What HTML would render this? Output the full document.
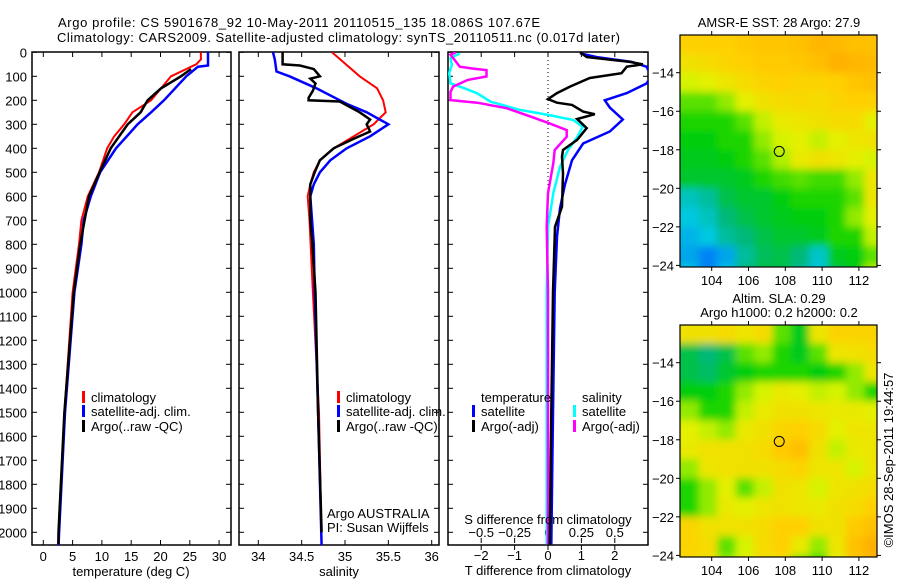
<!DOCTYPE html>
<html><head><meta charset="utf-8"><style>
html,body{margin:0;padding:0;background:#fff;}
svg{display:block;font-family:"Liberation Sans",sans-serif;}
text{font-size:13px;fill:#000;}
</style></head><body>
<svg id="chart" width="900" height="580" viewBox="0 0 900 580">
<defs>
<clipPath id="c1"><rect x="32" y="52" width="199" height="493"/></clipPath>
<clipPath id="c2"><rect x="239" y="52" width="200" height="493"/></clipPath>
<clipPath id="c3"><rect x="448" y="52" width="200" height="493"/></clipPath>
<clipPath id="cm1"><rect x="680" y="35" width="197" height="232"/></clipPath>
<clipPath id="cm2"><rect x="680" y="325" width="197" height="232"/></clipPath>
<filter id="blur" x="-5%" y="-5%" width="110%" height="110%"><feGaussianBlur stdDeviation="4"/></filter>
</defs>
<text x="58" y="27" textLength="482">Argo profile: CS 5901678_92 10-May-2011 20110515_135 18.086S 107.67E</text>
<text x="57" y="42" textLength="563">Climatology: CARS2009. Satellite-adjusted climatology: synTS_20110511.nc (0.017d later)</text>
<g id="root"></g>
</svg>
<script>
// ---------- Temperature panel data ----------
const tClimDepth = [0,30,50,100,150,200,250,300,350,400,500,600,700,800,1000,1500,2000,2055];
const tClimVal   = [26.9,26.9,26.1,21.8,20.1,18.4,15.2,13.8,12.1,10.9,9.5,7.6,6.5,6.1,5.0,3.6,2.6,2.5];
const tSatDepth  = [0,55,60,100,200,250,300,400,500,600,700,800,1000,1500,2000,2055];
const tSatVal    = [28.1,28.1,26.4,24.4,20.6,18.4,16.1,12.4,9.7,8.1,6.9,6.5,5.3,3.7,2.7,2.6];
const tArgoDepth = [70,100,150,200,250,300,400,500,600,800,1000,1500,2000,2050];
const tArgoVal   = [25.2,23.5,20.1,17.8,16.6,14.4,11.5,9.6,7.8,6.3,5.2,3.6,2.6,2.6];
const tTicks = [0,5,10,15,20,25,30];
// ---------- Salinity panel data ----------
const sClimDepth = [0,100,150,200,250,300,350,400,450,500,550,600,700,1000,1500,2055];
const sClimVal   = [34.85,35.17,35.37,35.44,35.47,35.33,35.10,34.87,34.71,34.64,34.60,34.57,34.59,34.63,34.70,34.73];
const sSatDepth  = [0,30,80,100,150,200,215,250,300,350,400,450,500,550,600,800,1000,1500,2055];
const sSatVal    = [34.17,34.19,34.21,34.36,34.67,34.94,35.02,35.25,35.50,35.29,35.02,34.83,34.71,34.64,34.60,34.64,34.65,34.69,34.73];
const sArgoDepth = [0,50,55,70,100,110,130,160,190,200,205,250,280,300,330,360,400,450,500,550,700,780,1000,1500,2000];
const sArgoVal   = [34.28,34.28,34.48,34.64,34.71,34.60,34.66,34.63,34.58,34.58,34.94,35.17,35.29,35.25,35.29,35.10,34.87,34.71,34.65,34.60,34.60,34.62,34.66,34.69,34.73];
const sTicks = [34,34.5,35,35.5,36];
// ---------- Difference panel data ----------
const dTSatDepth = [4,20,40,60,100,130,170,200,230,280,330,380,450,550,650,768,1000,1500,2050];
const dTSatVal   = [0.96,1.46,2.5,2.95,3.1,2.95,2.36,1.7,1.85,2.24,1.85,1.05,0.72,0.51,0.36,0.27,0.2,0.15,0.1];
const dTArgoDepth= [0,20,40,50,60,87,107,143,170,195,210,219,247,258,278,316,365,407,435,504,643,727,1000,1500,2050];
const dTArgoVal  = [0.96,1.16,2.45,2.84,2.36,2.2,1.25,0.66,0.27,0,0.27,0.72,1.05,1.4,0.87,1.16,0.87,0.45,0.42,0.45,0.42,0.21,0.15,0.1,0.05];
const dSSatDepth = [5,24,53,87,129,149,171,206,240,261,282,311,352,407,477,587,727,1000,1500,2050];
const dSSatVal   = [-0.66,-0.73,-0.72,-0.74,-0.73,-0.63,-0.53,-0.43,-0.21,0,0.19,0.26,0.22,0.15,0.09,0.04,0,-0.01,-0.01,-0.01];
const dSArgoDepth= [0,10,60,68,74,101,115,143,165,199,210,233,268,296,324,352,407,462,587,727,1000,1500,2050];
const dSArgoVal  = [-0.69,-0.73,-0.66,-0.56,-0.46,-0.46,-0.6,-0.71,-0.73,-0.73,-0.53,-0.31,-0.13,0.01,0.14,0.14,0.05,0.04,0,-0.01,0,0,0];
const dTTicks = [-2,-1,0,1,2];
const dSTicks = [-0.5,-0.25,0,0.25,0.5];
const dSTickLabels = ['-0.5','-0.25','0','0.25','0.5'];
const depthTicks = [0,100,200,300,400,500,600,700,800,900,1000,1100,1200,1300,1400,1500,1600,1700,1800,1900,2000];
// ---------- Map data (rows lat -12.5 .. -24.5, cols lon 102.8 .. 112.8) ----------
const sstGrid = [
[0.80,0.80,0.80,0.82,0.83,0.83,0.85,0.88,0.87,0.85,0.85],
[0.72,0.75,0.78,0.80,0.82,0.82,0.83,0.85,0.90,0.88,0.87],
[0.62,0.65,0.70,0.75,0.78,0.80,0.78,0.78,0.80,0.83,0.85],
[0.50,0.50,0.55,0.65,0.72,0.75,0.76,0.75,0.78,0.80,0.80],
[0.45,0.45,0.45,0.50,0.60,0.68,0.70,0.72,0.75,0.75,0.65],
[0.42,0.42,0.45,0.45,0.55,0.62,0.65,0.60,0.65,0.70,0.72],
[0.40,0.40,0.42,0.45,0.50,0.58,0.68,0.72,0.70,0.65,0.62],
[0.38,0.38,0.38,0.40,0.45,0.48,0.50,0.48,0.48,0.55,0.70],
[0.20,0.25,0.35,0.38,0.38,0.42,0.45,0.45,0.45,0.50,0.70],
[0.15,0.20,0.30,0.35,0.38,0.40,0.42,0.42,0.45,0.55,0.65],
[0.12,0.15,0.25,0.30,0.35,0.38,0.38,0.40,0.45,0.45,0.60],
[0.10,0.05,0.10,0.25,0.33,0.35,0.30,0.18,0.40,0.42,0.50],
[0.15,0.05,0.15,0.30,0.35,0.35,0.25,0.15,0.35,0.40,0.60]];
const slaGrid = [
[0.72,0.72,0.75,0.70,0.75,0.50,0.40,0.70,0.78,0.78,0.78],
[0.35,0.30,0.35,0.50,0.55,0.45,0.40,0.50,0.70,0.72,0.75],
[0.35,0.32,0.38,0.42,0.45,0.45,0.45,0.42,0.45,0.55,0.70],
[0.42,0.42,0.45,0.55,0.62,0.68,0.65,0.60,0.62,0.55,0.45],
[0.55,0.45,0.45,0.60,0.68,0.72,0.72,0.70,0.68,0.68,0.65],
[0.65,0.60,0.55,0.68,0.72,0.78,0.80,0.75,0.65,0.70,0.70],
[0.68,0.72,0.72,0.72,0.75,0.82,0.85,0.72,0.60,0.68,0.70],
[0.55,0.70,0.72,0.72,0.72,0.75,0.78,0.70,0.70,0.62,0.70],
[0.45,0.55,0.65,0.50,0.60,0.72,0.70,0.62,0.70,0.72,0.75],
[0.45,0.55,0.68,0.65,0.70,0.72,0.70,0.68,0.72,0.75,0.80],
[0.78,0.72,0.72,0.72,0.75,0.80,0.80,0.72,0.72,0.82,0.85],
[0.78,0.75,0.50,0.62,0.75,0.80,0.68,0.55,0.70,0.85,0.90],
[0.75,0.72,0.55,0.65,0.72,0.72,0.50,0.45,0.65,0.82,0.88]];
const lonTicks = [104,106,108,110,112];
const latTicks = [-14,-16,-18,-20,-22,-24];
const argoLon = 107.67, argoLat = -18.086;

const NS='http://www.w3.org/2000/svg';
const root=document.getElementById('root');
function mk(tag,attrs,parent){const e=document.createElementNS(NS,tag);for(const k in attrs)e.setAttribute(k,attrs[k]);(parent||root).appendChild(e);return e;}
function txt(x,y,s,anchor,parent){const t=mk('text',{x:x,y:y,'text-anchor':anchor||'start'},parent);t.textContent=s;return t;}

const dy = d => 52.3 + d*0.24;
const xT = v => 43.3 + v*5.86;
const xS = v => 258.3 + (v-34)*86.7;
const xDT = v => 548 + v*33.4;
const xDS = v => 548 + v*133.6;

function frame(x0,x1,name){
  const r=mk('rect',{x:x0,y:52,width:x1-x0,height:493,fill:'none',stroke:'#000','stroke-width':1.5});
  
  
  depthTicks.forEach(d=>{
    const y=dy(d);
    mk('line',{x1:x0,y1:y,x2:x0+5,y2:y,stroke:'#000'});
    mk('line',{x1:x1-5,y1:y,x2:x1,y2:y,stroke:'#000'});
  });
}
function series(depths,vals,xf,color,w,clip,name){
  const pts=depths.map((d,i)=>xf(vals[i]).toFixed(1)+','+dy(d).toFixed(1)).join(' ');
  const p=mk('polyline',{points:pts,fill:'none',stroke:color,'stroke-width':w,'clip-path':'url(#'+clip+')','stroke-linejoin':'miter'});
  
  
}
function legend(x,y,color,label,name){
  const g=mk('g',{});
  
  
  mk('rect',{x:x,y:y-11,width:3,height:12,fill:color},g);
  txt(x+9,y,label,'start',g);
}

// Panel 1
frame(32,231,'temperature-axes');
depthTicks.forEach(d=>{const t=txt(27,dy(d)+5,String(d),'end');});
tTicks.forEach(v=>{const x=xT(v);mk('line',{x1:x,y1:52,x2:x,y2:57,stroke:'#000'});mk('line',{x1:x,y1:540,x2:x,y2:545,stroke:'#000'});
  const t=txt(x,561,String(v),'middle');});
const xl1=txt(131,576,'temperature (deg C)','middle');
series(tClimDepth,tClimVal,xT,'#ff0000',2,'c1','temperature-climatology-line');
series(tSatDepth,tSatVal,xT,'#0000ff',2.5,'c1','temperature-satellite-line');
series(tArgoDepth,tArgoVal,xT,'#000000',2.5,'c1','temperature-argo-line');
legend(82,402,'#ff0000','climatology','legend-climatology');
legend(82,416,'#0000ff','satellite-adj. clim.','legend-satellite');
legend(82,431,'#000000','Argo(..raw -QC)','legend-argo');

// Panel 2
frame(239,439,'salinity-axes');
sTicks.forEach(v=>{const x=xS(v);mk('line',{x1:x,y1:52,x2:x,y2:57,stroke:'#000'});mk('line',{x1:x,y1:540,x2:x,y2:545,stroke:'#000'});
  const t=txt(x,561,String(v),'middle');});
const xl2=txt(339,576,'salinity','middle');
series(sClimDepth,sClimVal,xS,'#ff0000',2,'c2','salinity-climatology-line');
series(sSatDepth,sSatVal,xS,'#0000ff',2.5,'c2','salinity-satellite-line');
series(sArgoDepth,sArgoVal,xS,'#000000',2.5,'c2','salinity-argo-line');
legend(337,402,'#ff0000','climatology','legend-climatology-2');
legend(337,416,'#0000ff','satellite-adj. clim.','legend-satellite-2');
legend(337,431,'#000000','Argo(..raw -QC)','legend-argo-2');
const ag=mk('g',{});
txt(327,518,'Argo AUSTRALIA','start',ag);txt(327,532,'PI: Susan Wijffels','start',ag);

// Panel 3
frame(448,648,'difference-axes');
mk('line',{x1:548,y1:52,x2:548,y2:545,stroke:'#000','stroke-dasharray':'1,3'});
dTTicks.forEach(v=>{const x=xDT(v);mk('line',{x1:x,y1:52,x2:x,y2:57,stroke:'#000'});mk('line',{x1:x,y1:545,x2:x,y2:550,stroke:'#000'});
  const t=txt(x,560,String(v).replace('-','−'),'middle');});
dSTicks.forEach((v,i)=>{const x=xDS(v);mk('line',{x1:x,y1:538,x2:x,y2:543,stroke:'#000'});
  const t=txt(x,537,dSTickLabels[i].replace('-','−'),'middle');});
series(dSSatDepth,dSSatVal,xDS,'#00ffff',2.5,'c3','s-diff-satellite-line');
series(dSArgoDepth,dSArgoVal,xDS,'#ff00ff',2.5,'c3','s-diff-argo-line');
series(dTSatDepth,dTSatVal,xDT,'#0000ff',2.5,'c3','t-diff-satellite-line');
series(dTArgoDepth,dTArgoVal,xDT,'#000000',2.5,'c3','t-diff-argo-line');
const st=txt(548,524,'S difference from climatology','middle');
const tt=txt(548,575,'T difference from climatology','middle');
const lh1=txt(481,402,'temperature','start');
const lh2=txt(582,402,'salinity','start');
legend(472,416,'#0000ff','satellite','legend-t-satellite');
legend(472,431,'#000000','Argo(-adj)','legend-t-argo');
legend(573,416,'#00ffff','satellite','legend-s-satellite');
legend(573,431,'#ff00ff','Argo(-adj)','legend-s-argo');

// Maps
const stops=[[0,[0,96,255]],[0.15,[0,200,224]],[0.3,[0,184,120]],[0.43,[0,208,0]],[0.53,[128,232,0]],[0.63,[224,244,0]],[0.8,[255,208,0]],[1,[255,144,0]]];
function cmap(v){for(let i=1;i<stops.length;i++){if(v<=stops[i][0]){const a=stops[i-1],b=stops[i],t=(v-a[0])/(b[0]-a[0]);
  const c=a[1].map((x,k)=>Math.round(x+(b[1][k]-x)*t));return 'rgb('+c.join(',')+')';}}return 'rgb(255,144,0)';}
const mx = lon => 711.7 + (lon-104)*18.4;
function drawMap(grid,top,clip,name){
  const my = lat => top + (-14-lat)*19.27 + 37.7;
  const g=mk('g',{'clip-path':'url(#'+clip+')'});
  
  
  const inner=mk('g',{filter:'url(#blur)'},g);
  grid.forEach((row,r)=>row.forEach((v,c)=>{
    let lonA=102.3+c, lonB=103.3+c, latA=-12-r, latB=-13-r;
    if(c===0)lonA-=1; if(c===row.length-1)lonB+=1;
    if(r===0)latA+=1; if(r===grid.length-1)latB-=1;
    mk('rect',{x:mx(lonA).toFixed(1),y:my(latA).toFixed(1),width:(mx(lonB)-mx(lonA)+0.6).toFixed(1),height:(my(latB)-my(latA)+0.6).toFixed(1),fill:cmap(v)},inner);
  }));
  const fr=mk('rect',{x:680,y:top,width:197,height:232,fill:'none',stroke:'#000','stroke-width':1.2});
  
  
  latTicks.forEach(l=>{const y=my(l);mk('line',{x1:676,y1:y,x2:680,y2:y,stroke:'#000'});mk('line',{x1:877,y1:y,x2:881,y2:y,stroke:'#000'});
    const t=txt(674,y+5,String(l).replace('-','−'),'end');});
  lonTicks.forEach(l=>{const x=mx(l);mk('line',{x1:x,y1:top-4,x2:x,y2:top,stroke:'#000'});mk('line',{x1:x,y1:top+232,x2:x,y2:top+236,stroke:'#000'});
    const t=txt(x,top+250,String(l),'middle');});
  const m=mk('circle',{cx:mx(argoLon),cy:my(argoLat),r:5,fill:'none',stroke:'#000','stroke-width':1});
  
  
}
drawMap(sstGrid,35,'cm1','sst-map');
drawMap(slaGrid,325,'cm2','sla-map');
const m1=txt(779,27,'AMSR-E SST: 28 Argo: 27.9','middle');
const m2=txt(779,303,'Altim. SLA: 0.29','middle');
const m3=txt(779,317,'Argo h1000: 0.2 h2000: 0.2','middle');
const cr=txt(0,0,'©IMOS 28-Sep-2011 19:44:57','middle');
cr.setAttribute('transform','translate(893,460) rotate(-90)');


</script>
</body></html>
